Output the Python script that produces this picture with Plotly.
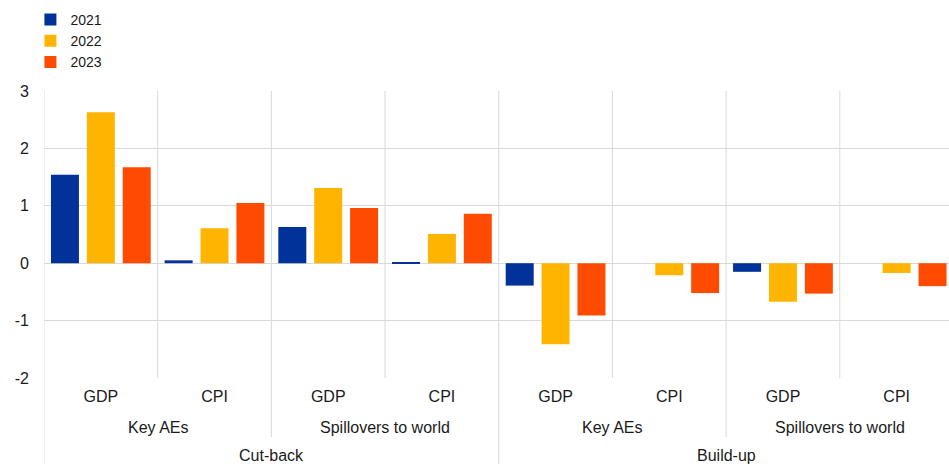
import plotly.graph_objects as go

# Data
indicators = ["GDP", "CPI", "GDP", "CPI", "GDP", "CPI", "GDP", "CPI"]
regions = ["Key AEs", "Spillovers to world", "Key AEs", "Spillovers to world"]
scenarios = ["Cut-back", "Build-up"]
years = ["2021", "2022", "2023"]
v2021 = [1.54, 0.05, 0.63, 0.02, -0.39, 0.0, -0.15, 0.0]
v2022 = [2.63, 0.61, 1.31, 0.51, -1.41, -0.21, -0.67, -0.17]
v2023 = [1.67, 1.05, 0.96, 0.86, -0.91, -0.52, -0.53, -0.40]
colors = ["#003299", "#FFB400", "#FF4B00"]
yticks = [-2, -1, 0, 1, 2, 3]

W, H = 949, 464
L, T, B = 44, 91, 86
plot_h = H - T - B
font = "Liberation Sans, Arial, sans-serif"
txt = "#1a1a1a"
grid = "#d9d9d9"

x = list(range(len(indicators)))
fig = go.Figure()
for name, vals, c in zip(years, [v2021, v2022, v2023], colors):
    fig.add_trace(go.Bar(x=x, y=vals, name=name, marker=dict(color=c, line=dict(width=0))))

def py(pix):
    return (H - B - pix) / plot_h

shapes = []
for i in range(len(indicators) + 1):
    xv = i - 0.5
    if i % 4 == 0:
        y0 = py(H)
    elif i % 2 == 0:
        y0 = py(437)
    else:
        y0 = 0
    shapes.append(dict(type="line", xref="x", yref="paper", x0=xv, x1=xv, y0=y0, y1=1,
                       line=dict(color=grid, width=1), layer="below"))

annotations = []
for j, r in enumerate(regions):
    annotations.append(dict(x=2 * j + 0.5, y=py(427), xref="x", yref="paper", text=r,
                            showarrow=False, yanchor="middle", xanchor="center",
                            font=dict(size=16, color=txt, family=font)))
for j, s in enumerate(scenarios):
    annotations.append(dict(x=4 * j + 1.5, y=py(455), xref="x", yref="paper", text=s,
                            showarrow=False, yanchor="middle", xanchor="center",
                            font=dict(size=16, color=txt, family=font)))

fig.update_layout(
    width=W, height=H,
    margin=dict(l=L, r=0, t=T, b=B),
    plot_bgcolor="white", paper_bgcolor="white",
    barmode="group", bargap=0.053, bargroupgap=0.22,
    font=dict(family=font, size=16, color=txt),
    showlegend=True,
    legend=dict(x=-0.015, y=1 - 4 / H, xref="paper", yref="container", xanchor="left", yanchor="top",
                font=dict(size=14, color=txt, family=font), bgcolor="rgba(0,0,0,0)",
                tracegroupgap=0, itemwidth=30),
    xaxis=dict(range=[-0.5, -0.5 + 7.9605], tickvals=x, ticktext=indicators, showgrid=False,
               zeroline=False, showline=False, ticks="", ticklabelstandoff=7,
               tickfont=dict(size=16, color=txt, family=font), fixedrange=True),
    yaxis=dict(range=[-2, 3], tickvals=yticks, ticktext=[str(v) for v in yticks], showgrid=True,
               gridcolor=grid, gridwidth=1, zeroline=True, zerolinecolor=grid, zerolinewidth=1,
               showline=False, ticks="", ticklabelstandoff=14,
               tickfont=dict(size=16, color=txt, family=font)),
    shapes=shapes, annotations=annotations,
)
fig.write_html("out.html", config={"displayModeBar": False},
               post_script="document.body.style.margin='0';document.body.style.overflow='hidden';")
